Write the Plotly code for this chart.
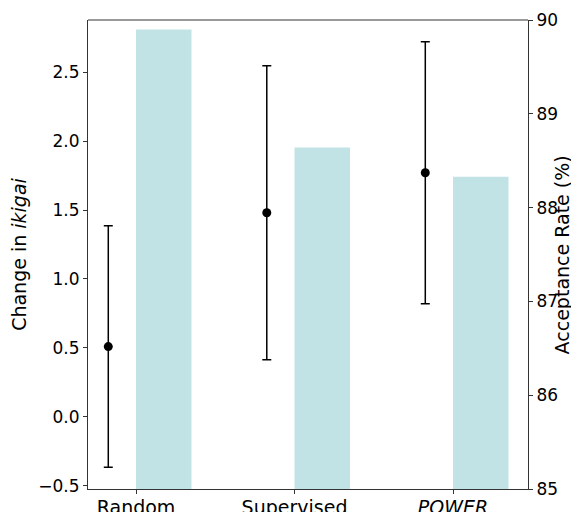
import plotly.graph_objects as go

categories = ["Random", "Supervised", "<i>POWER</i>"]
ikigai_mean = [0.51, 1.48, 1.77]
ikigai_err = [0.875, 1.065, 0.95]
acceptance = [89.90, 88.64, 88.33]

pos = list(range(len(categories)))
bar_w = 0.35
pt_x = [p - bar_w / 2 for p in pos]

FONT = "DejaVu Sans"
fig = go.Figure()
fig.add_trace(go.Bar(
    x=pos, y=[a - 85 for a in acceptance], base=85, width=bar_w, offset=0,
    marker=dict(color="#c1e3e5", line=dict(width=0)), yaxis="y2", showlegend=False,
))
fig.add_trace(go.Scatter(
    x=pt_x, y=ikigai_mean, mode="markers",
    marker=dict(color="black", size=9),
    error_y=dict(type="data", array=ikigai_err, color="black", thickness=1.5, width=4.5),
    yaxis="y", showlegend=False,
))

axis_common = dict(showline=True, linecolor="#333", linewidth=1, mirror=False, automargin=False,
                   ticks="outside", ticklen=4, tickcolor="#333", showgrid=False, zeroline=False)
fig.update_layout(
    template="none",
    width=579, height=512,
    margin=dict(l=80, r=59, t=12, b=31, pad=0),
    plot_bgcolor="white", paper_bgcolor="white",
    font=dict(family=FONT, color="black"),
    xaxis=dict(range=[-0.303, 2.473], tickmode="array", tickvals=pos, ticktext=categories,
               tickfont=dict(size=19), ticklabelstandoff=-3, **axis_common),
    yaxis=dict(range=[-0.522, 2.877], tickmode="linear", tick0=-0.5, dtick=0.5, tickformat=".1f",
               tickfont=dict(size=17), title=dict(text="Change in <i>ikigai</i>", font=dict(size=19), standoff=12),
               **axis_common),
    yaxis2=dict(range=[85, 90], overlaying="y", side="right", tickmode="linear", tick0=85, dtick=1,
                tickfont=dict(size=17), **axis_common),
    annotations=[dict(text="Acceptance Rate (%)", xref="paper", yref="paper", x=1.077, y=0.5,
                      xanchor="center", yanchor="middle", textangle=-90, showarrow=False,
                      font=dict(size=19, family=FONT, color="black"))],
    shapes=[dict(type="line", xref="paper", yref="paper", x0=0, x1=1, y0=1, y1=1,
                 line=dict(color="#333", width=1))],
)
fig.write_html("out.html")
